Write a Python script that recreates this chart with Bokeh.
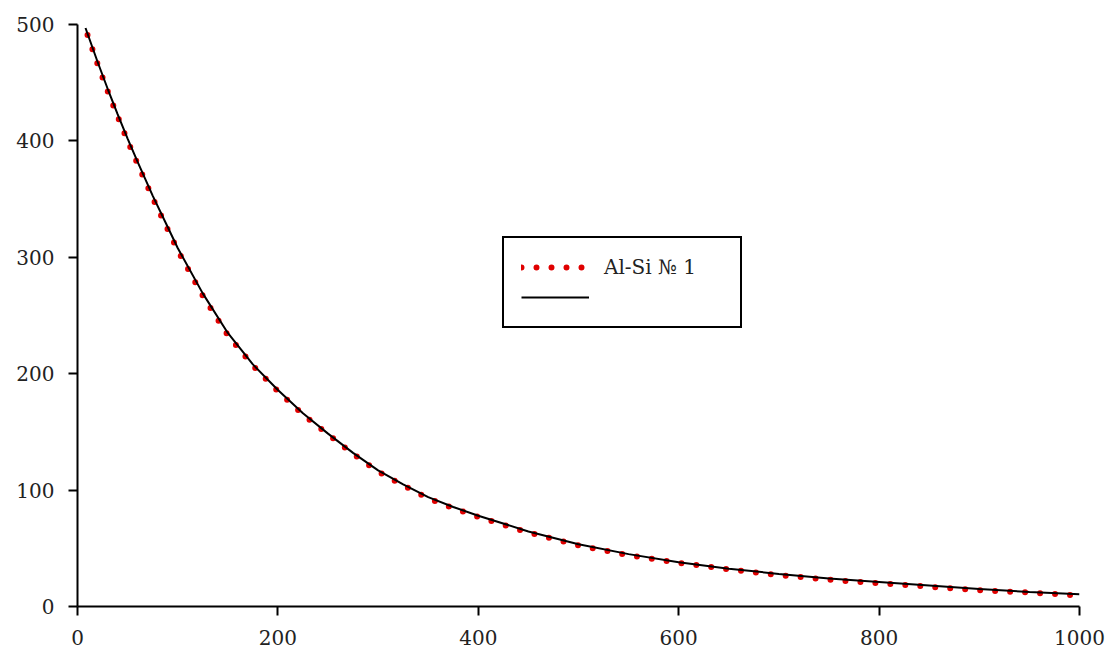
from bokeh.plotting import figure
from bokeh.models import Range1d, FixedTicker, Legend, LegendItem
from bokeh.embed import file_html
from bokeh.resources import INLINE

# measured series (red dots)
x_meas = [10, 20, 30, 40, 50, 60, 75, 90, 100, 125, 150, 175, 200, 225, 250, 275,
          300, 325, 350, 375, 400, 450, 500, 550, 600, 650, 700, 750, 800, 850, 900, 950, 1000]
y_meas = [491, 466, 443, 421, 400, 380, 351, 324, 306, 267, 233, 207, 185, 165, 148, 131,
          116, 104, 93, 84.5, 77, 63.5, 52.5, 44, 37.5, 32, 27, 23, 20, 17, 14, 12, 9.5]

# fitted curve (black line)
x_fit = [8, 20, 30, 40, 50, 60, 75, 90, 100, 125, 150, 175, 200, 225, 250, 275,
         300, 325, 350, 375, 400, 450, 500, 550, 600, 650, 700, 750, 800, 850, 900, 950, 1000]
y_fit = [497, 468, 445, 423, 402, 382, 353, 326, 308, 269, 235, 208, 186, 166, 148.5, 132,
         117, 105, 94, 85.5, 78, 64.5, 53.5, 45, 38, 32.5, 28, 24, 21, 18, 15, 12.5, 10.5]

x_ticks = [0, 200, 400, 600, 800, 1000]
y_ticks = [0, 100, 200, 300, 400, 500]
legend_label = "Al-Si № 1"

FONT = "DejaVu Serif"

p = figure(width=1111, height=648, output_backend="svg", toolbar_location=None,
           x_range=Range1d(0, 1000), y_range=Range1d(0, 500),
           min_border_left=77, min_border_right=32, min_border_top=24, min_border_bottom=42)
p.outline_line_color = None
p.grid.visible = False
p.background_fill_color = "white"
p.border_fill_color = "white"

for ax, ticks in ((p.xaxis[0], x_ticks), (p.yaxis[0], y_ticks)):
    ax.ticker = FixedTicker(ticks=ticks)
    ax.axis_line_width = 2
    ax.axis_line_color = "black"
    ax.major_tick_line_width = 2
    ax.major_tick_line_color = "black"
    ax.major_tick_out = 9
    ax.major_tick_in = 0
    ax.minor_tick_line_color = None
    ax.major_label_text_font = FONT
    ax.major_label_text_font_size = "20px"
    ax.major_label_text_color = "#222222"
p.xaxis[0].major_label_standoff = 14
p.yaxis[0].major_label_standoff = 14

r_meas = p.line(x_meas, y_meas, line_color="#e00000", line_width=6,
                line_dash="0 15", line_cap="round")
r_fit = p.line(x_fit, y_fit, line_color="black", line_width=2)

legend = Legend(items=[LegendItem(label=legend_label, renderers=[r_meas]),
                       LegendItem(label=" ", renderers=[r_fit])],
                location=(425, 278))
legend.border_line_color = "black"
legend.border_line_alpha = 1
legend.border_line_width = 2
legend.background_fill_color = "white"
legend.background_fill_alpha = 1
legend.label_text_font = FONT
legend.label_text_font_size = "20px"
legend.label_text_color = "#222222"
legend.glyph_width = 68
legend.glyph_height = 24
legend.label_height = 24
legend.label_width = 119
legend.label_standoff = 15
legend.spacing = 6
legend.padding = 17
legend.margin = 0
p.add_layout(legend, "center")

open("out.html", "w").write(file_html(p, INLINE))
